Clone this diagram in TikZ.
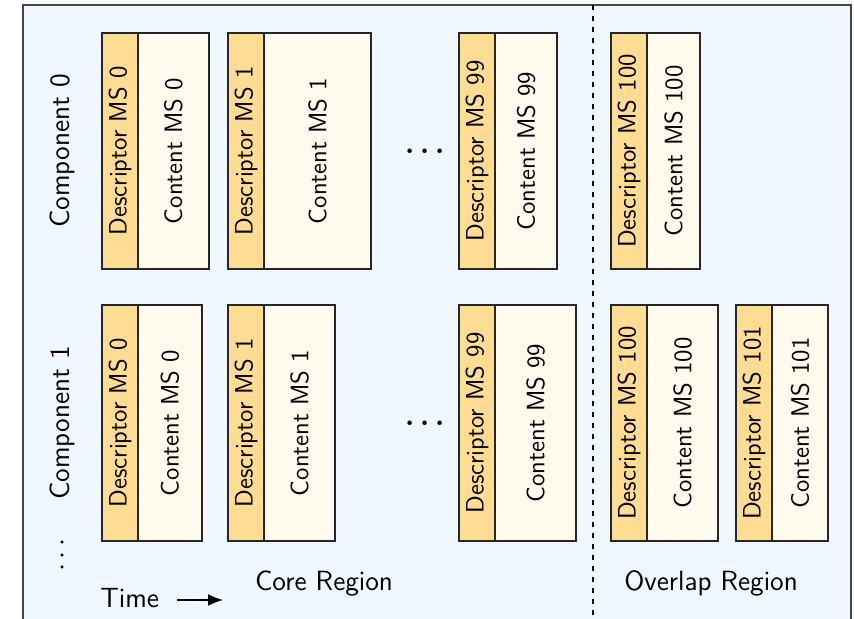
\documentclass[tikz,border=0pt]{standalone}
\usepackage{fontspec}
\usetikzlibrary{arrows.meta}

\definecolor{framebg}{RGB}{240,247,255}
\definecolor{descfill}{RGB}{255,220,148}
\definecolor{contfill}{RGB}{255,250,238}
\definecolor{framecol}{RGB}{70,70,70}

\newcommand{\boxfont}{\fontsize{12.6}{15}\selectfont\sffamily}
\newcommand{\labelfont}{\fontsize{13.9}{16}\selectfont\sffamily}

% one microslice: descriptor strip plus content block
\newcommand{\MSpair}[5]{%
  \node[descbox, anchor=north west] (d#1) at (#2,#3) {\rotatebox{90}{Descriptor MS #5}};
  \node[contbox, anchor=north west, minimum width=#4] (c#1) at (d#1.north east) {\rotatebox{90}{Content MS #5}};
}

\begin{document}
\begin{tikzpicture}[x=0.5pt, y=-0.5pt,
  descbox/.style={draw=black!85, line width=0.75pt, fill=descfill, inner sep=0pt, outer sep=0pt,
    minimum width=18pt, minimum height=118pt, font=\boxfont},
  contbox/.style={draw=black!85, line width=0.75pt, fill=contfill, inner sep=0pt, outer sep=0pt,
    minimum height=118pt, font=\boxfont},
  lbl/.style={font=\labelfont, inner sep=0pt},
  dotsnode/.style={font=\fontsize{13.4}{16}\selectfont\boldmath, inner sep=0pt},
  vdotsnode/.style={font=\fontsize{13.4}{16}\selectfont, inner sep=0pt}]

\useasboundingbox (0,0) rectangle (854,619);

% background frame
\node[draw=framecol, line width=0.6pt, fill=framebg, inner sep=0pt, outer sep=0pt,
  minimum width=414pt, minimum height=312pt, anchor=north west] (frame) at (23,5) {};

% split between core and overlap region
\coordinate (splittop) at (593,5);
\coordinate (splitbot) at (593,625);
\draw[black, line width=0.6pt, dash pattern=on 2.5pt off 3pt] (splittop) -- (splitbot);

% component 0
\MSpair{a0}{102}{33}{35.5pt}{0}
\MSpair{a1}{228}{33}{53.5pt}{1}
\MSpair{a99}{459}{33}{31pt}{99}
\MSpair{a100}{611}{33}{26.5pt}{100}

% component 1
\MSpair{b0}{102}{305}{32pt}{0}
\MSpair{b1}{228}{305}{35.5pt}{1}
\MSpair{b99}{459}{305}{40.5pt}{99}
\MSpair{b100}{611}{305}{35.5pt}{100}
\MSpair{b101}{736}{305}{28pt}{101}

% ellipses
\node[dotsnode] (dotsa) at (425,152) {$\cdots$};
\node[dotsnode] (dotsb) at (425,424) {$\cdots$};
\node[vdotsnode, rotate=90] (vdots) at (63,555) {$\cdots$};

% row labels
\node[lbl, rotate=90] (comp0) at (62,151) {Component 0};
\node[lbl, rotate=90] (comp1) at (62,423) {Component 1};

% region labels
\node[lbl, anchor=base] (core) at (324,590) {Core Region};
\node[lbl, anchor=base] (overlap) at (711,590) {Overlap Region};

% time axis
\node[lbl, anchor=base west] (time) at (100,607) {Time};
\coordinate (tstart) at (177,600);
\coordinate (tend) at (223,600);
\draw[line width=0.8pt, -{Latex[length=7.5pt, width=6pt]}] (tstart) -- (tend);

\end{tikzpicture}
\end{document}
